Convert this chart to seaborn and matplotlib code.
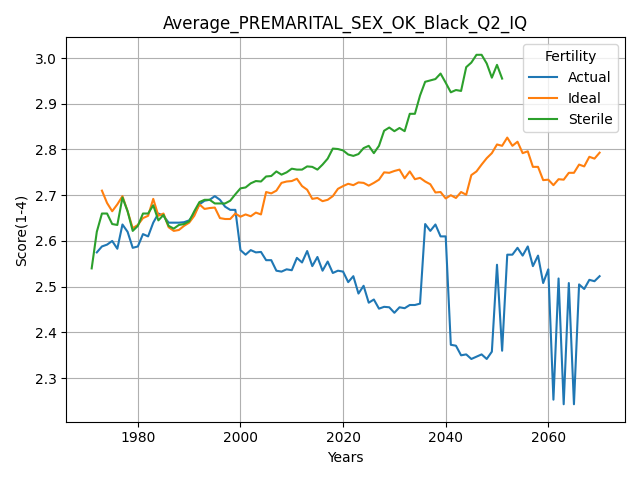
import matplotlib
matplotlib.use("Agg")
import matplotlib.pyplot as plt
import seaborn as sns
import pandas as pd
import numpy as np

actual_years = list(range(1972, 2071))
actual = [2.575, 2.588, 2.592, 2.600, 2.583, 2.636, 2.620, 2.585, 2.588, 2.615,
          2.610, 2.640, 2.660, 2.655, 2.640, 2.640, 2.640, 2.641, 2.645, 2.660,
          2.680, 2.688, 2.690, 2.698, 2.690, 2.675, 2.668, 2.668, 2.580, 2.570,
          2.580, 2.575, 2.576, 2.558, 2.558, 2.535, 2.533, 2.538, 2.536, 2.563,
          2.553, 2.578, 2.545, 2.565, 2.535, 2.555, 2.530, 2.535, 2.533, 2.510,
          2.523, 2.485, 2.502, 2.465, 2.472, 2.452, 2.456, 2.455, 2.443, 2.455,
          2.453, 2.460, 2.460, 2.463, 2.637, 2.622, 2.636, 2.610, 2.610, 2.373,
          2.371, 2.350, 2.352, 2.342, 2.347, 2.352, 2.342, 2.358, 2.548, 2.360,
          2.570, 2.570, 2.585, 2.568, 2.588, 2.545, 2.568, 2.508, 2.538, 2.253,
          2.518, 2.243, 2.508, 2.243, 2.505, 2.495, 2.515, 2.512, 2.523]

ideal_years = list(range(1973, 2071))
ideal = [2.710, 2.683, 2.665, 2.680, 2.698, 2.665, 2.628, 2.635, 2.650, 2.655,
         2.692, 2.655, 2.660, 2.630, 2.622, 2.624, 2.633, 2.640, 2.655, 2.680,
         2.670, 2.672, 2.673, 2.650, 2.648, 2.648, 2.660, 2.653, 2.658, 2.654,
         2.662, 2.658, 2.707, 2.704, 2.710, 2.727, 2.730, 2.731, 2.736, 2.720,
         2.712, 2.692, 2.694, 2.687, 2.690, 2.698, 2.714, 2.720, 2.725, 2.722,
         2.728, 2.727, 2.721, 2.727, 2.734, 2.750, 2.749, 2.753, 2.756, 2.737,
         2.752, 2.735, 2.738, 2.730, 2.724, 2.706, 2.707, 2.693, 2.700, 2.694,
         2.707, 2.701, 2.744, 2.752, 2.767, 2.781, 2.792, 2.811, 2.808, 2.826,
         2.808, 2.817, 2.792, 2.796, 2.762, 2.762, 2.733, 2.734, 2.722, 2.735,
         2.734, 2.749, 2.749, 2.767, 2.763, 2.784, 2.780, 2.793]

sterile_years = list(range(1971, 2052))
sterile = [2.540, 2.620, 2.660, 2.660, 2.637, 2.635, 2.695, 2.665, 2.622, 2.633,
           2.660, 2.660, 2.678, 2.645, 2.657, 2.633, 2.627, 2.635, 2.637, 2.643,
           2.665, 2.685, 2.690, 2.690, 2.682, 2.682, 2.682, 2.688, 2.702, 2.715,
           2.717, 2.726, 2.731, 2.730, 2.741, 2.742, 2.752, 2.745, 2.750, 2.758,
           2.756, 2.756, 2.763, 2.762, 2.756, 2.767, 2.780, 2.802, 2.801, 2.798,
           2.789, 2.786, 2.790, 2.803, 2.808, 2.792, 2.808, 2.841, 2.848, 2.840,
           2.847, 2.840, 2.878, 2.878, 2.918, 2.948, 2.951, 2.954, 2.966, 2.946,
           2.925, 2.930, 2.928, 2.980, 2.990, 3.007, 3.007, 2.988, 2.957, 2.985,
           2.955]

df = pd.concat([
    pd.DataFrame({"Years": actual_years, "Score": actual, "Fertility": "Actual"}),
    pd.DataFrame({"Years": ideal_years, "Score": ideal, "Fertility": "Ideal"}),
    pd.DataFrame({"Years": sterile_years, "Score": sterile, "Fertility": "Sterile"}),
])

fig, ax = plt.subplots(figsize=(6.4, 4.8), dpi=100)
sns.lineplot(data=df, x="Years", y="Score", hue="Fertility", ax=ax)
ax.grid(True, color="#b0b0b0")
ax.set_title("Average_PREMARITAL_SEX_OK_Black_Q2_IQ")
ax.set_xlabel("Years")
ax.set_ylabel("Score(1-4)")
fig.tight_layout()
plt.savefig("out.png")
